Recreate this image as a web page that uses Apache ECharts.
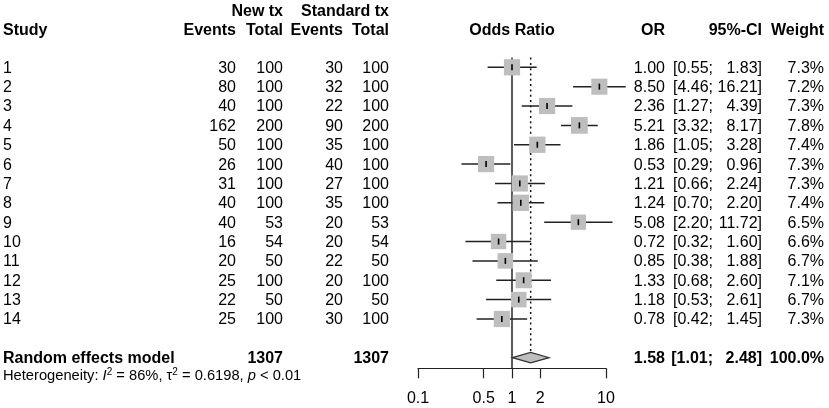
<!DOCTYPE html>
<html>
<head>
<meta charset="utf-8">
<script src="https://cdn.jsdelivr.net/npm/echarts@6/dist/echarts.min.js"></script>
<style>html,body{margin:0;padding:0;background:#fff}#c{width:829px;height:408px}</style>
</head>
<body>
<div id="c"></div>
<script>
// ---- data ----
const studies   = ['1','2','3','4','5','6','7','8','9','10','11','12','13','14'];
const newEvents = [30, 80, 40, 162, 50, 26, 31, 40, 40, 16, 20, 25, 22, 25];
const newTotal  = [100,100,100,200,100,100,100,100, 53, 54, 50,100, 50,100];
const stdEvents = [30, 32, 22, 90, 35, 40, 27, 35, 20, 20, 22, 20, 20, 30];
const stdTotal  = [100,100,100,200,100,100,100,100, 53, 54, 50,100, 50,100];
const oddsRatio = [1.00, 8.50, 2.36, 5.21, 1.86, 0.53, 1.21, 1.24, 5.08, 0.72, 0.85, 1.33, 1.18, 0.78];
const ciLower   = [0.55, 4.46, 1.27, 3.32, 1.05, 0.29, 0.66, 0.70, 2.20, 0.32, 0.38, 0.68, 0.53, 0.42];
const ciUpper   = [1.83, 16.21, 4.39, 8.17, 3.28, 0.96, 2.24, 2.20, 11.72, 1.60, 1.88, 2.60, 2.61, 1.45];
const weights   = [7.3, 7.2, 7.3, 7.8, 7.4, 7.3, 7.3, 7.4, 6.5, 6.6, 6.7, 7.1, 6.7, 7.3];
const pooledLabel = 'Random effects model';
const pooledNewTotal = 1307;
const pooledStdTotal = 1307;
const pooledOR = 1.58, pooledLower = 1.01, pooledUpper = 2.48, pooledWeight = 100.0;
const hetText = 'Heterogeneity: {i|I}{sup|2} = 86%, \u03c4{sup|2} = 0.6198, {i|p} < 0.01';
const tickValues = [0.1, 0.5, 1, 2, 10];
const tickLabels = ['0.1', '0.5', '1', '2', '10'];

// ---- layout ----
const FONT = '"Liberation Sans", Arial, Helvetica, sans-serif';
const F = (w, s) => (w ? 'bold ' : '') + s + 'px ' + FONT;
const pooledRow = studies.length + 2;
const yMax = 16.55;

const studyData = studies.map((s, i) => [oddsRatio[i], ciLower[i], ciUpper[i], i + 1, weights[i]]);
const fmt2 = v => v.toFixed(2);

function txt(x, y, text, align, bold) {
  return { type: 'text', style: { x: x, y: y, text: text, align: align, verticalAlign: 'middle', font: F(bold, 16), fill: '#000' } };
}

const chart = echarts.init(document.getElementById('c'), null, { renderer: 'canvas' });
chart.setOption({
  animation: false,
  backgroundColor: '#fff',
  grid: { left: 418, width: 188, top: 47.94, height: 320.4 },
  xAxis: {
    type: 'log', logBase: 10, min: 0.1, max: 10, position: 'bottom',
    axisLine: { show: true, onZero: false, lineStyle: { color: '#222', width: 1.2 } },
    axisTick: { show: true, inside: false, length: 10, lineStyle: { color: '#222', width: 1.2 }, customValues: tickValues },
    axisLabel: { show: true, margin: 22, customValues: tickValues, color: '#000', fontSize: 16, fontFamily: FONT,
      formatter: v => { const k = tickValues.findIndex(t => Math.abs(t - v) < 1e-6); return k >= 0 ? tickLabels[k] : ''; } },
    splitLine: { show: false }, minorTick: { show: false }
  },
  yAxis: { type: 'value', min: 0, max: yMax, inverse: true, show: false },
  graphic: [
    { type: 'text', x: 283, y: 12, style: { text: 'New tx', align: 'right', verticalAlign: 'middle', font: F(true, 16), fill: '#000' } },
    { type: 'text', x: 389, y: 12, style: { text: 'Standard tx', align: 'right', verticalAlign: 'middle', font: F(true, 16), fill: '#000' } },
    { type: 'text', x: 3, y: 31, style: { text: 'Study', align: 'left', verticalAlign: 'middle', font: F(true, 16), fill: '#000' } },
    { type: 'text', x: 236, y: 31, style: { text: 'Events', align: 'right', verticalAlign: 'middle', font: F(true, 16), fill: '#000' } },
    { type: 'text', x: 283, y: 31, style: { text: 'Total', align: 'right', verticalAlign: 'middle', font: F(true, 16), fill: '#000' } },
    { type: 'text', x: 343, y: 31, style: { text: 'Events', align: 'right', verticalAlign: 'middle', font: F(true, 16), fill: '#000' } },
    { type: 'text', x: 389, y: 31, style: { text: 'Total', align: 'right', verticalAlign: 'middle', font: F(true, 16), fill: '#000' } },
    { type: 'text', x: 512, y: 31, style: { text: 'Odds Ratio', align: 'center', verticalAlign: 'middle', font: F(true, 16), fill: '#000' } },
    { type: 'text', x: 665, y: 31, style: { text: 'OR', align: 'right', verticalAlign: 'middle', font: F(true, 16), fill: '#000' } },
    { type: 'text', x: 762, y: 31, style: { text: '95%-CI', align: 'right', verticalAlign: 'middle', font: F(true, 16), fill: '#000' } },
    { type: 'text', x: 824, y: 31, style: { text: 'Weight', align: 'right', verticalAlign: 'middle', font: F(true, 16), fill: '#000' } },
    { type: 'text', x: 3, y: 375.5, style: { text: hetText, align: 'left', verticalAlign: 'middle', font: F(false, 14.7), fill: '#000',
      rich: {
        i: { fontStyle: 'italic', fontSize: 14.7, fontFamily: FONT, lineHeight: 16 },
        sup: { fontSize: 10, fontFamily: FONT, verticalAlign: 'top', lineHeight: 16 }
      } } }
  ],
  series: [
    { // reference lines (no effect and pooled estimate)
      type: 'custom', clip: false, z: 1,
      data: [[1, 0], [pooledOR, 1]],
      encode: { x: 0 },
      renderItem: (params, api) => {
        const x = api.value(0), dotted = api.value(1) === 1;
        const top = api.coord([x, 0.5]);
        const bottom = dotted ? api.coord([x, pooledRow]) : api.coord([x, yMax]);
        return { type: 'line', shape: { x1: top[0], y1: top[1], x2: bottom[0], y2: dotted ? bottom[1] - 5 : bottom[1] },
          style: { stroke: dotted ? '#111' : '#333', lineWidth: dotted ? 1.5 : 1.6, lineDash: dotted ? [2, 3.3] : null } };
      }
    },
    { // study estimates
      type: 'custom', clip: false, z: 2,
      data: studyData,
      encode: { x: [0, 1, 2], y: 3 },
      renderItem: (params, api) => {
        const est = api.value(0), lo = api.value(1), hi = api.value(2), row = api.value(3), w = api.value(4);
        const pL = api.coord([lo, row]), pH = api.coord([hi, row]), pE = api.coord([est, row]);
        const s = 6 * Math.sqrt(w);
        return { type: 'group', children: [
          { type: 'line', shape: { x1: pL[0], y1: pL[1], x2: pH[0], y2: pH[1] }, style: { stroke: '#222', lineWidth: 1.5 } },
          { type: 'rect', shape: { x: pE[0] - s / 2, y: pE[1] - s / 2, width: s, height: s }, style: { fill: '#BEBEBE' } },
          { type: 'line', shape: { x1: pE[0], y1: pE[1] - 3, x2: pE[0], y2: pE[1] + 3 }, style: { stroke: '#000', lineWidth: 1.6 } }
        ] };
      }
    },
    { // pooled diamond
      type: 'custom', clip: false, z: 3,
      data: [[pooledOR, pooledLower, pooledUpper, pooledRow]],
      encode: { x: [0, 1, 2], y: 3 },
      renderItem: (params, api) => {
        const row = api.value(3);
        const pE = api.coord([api.value(0), row]), pL = api.coord([api.value(1), row]), pH = api.coord([api.value(2), row]);
        const h = 5.2;
        return { type: 'polygon', shape: { points: [[pL[0], pE[1]], [pE[0], pE[1] - h], [pH[0], pE[1]], [pE[0], pE[1] + h]] },
          style: { fill: '#BEBEBE', stroke: '#333', lineWidth: 1.2 } };
      }
    },
    { // study table text
      type: 'custom', clip: false, z: 4,
      data: studies.map((s, i) => [1, i + 1, i]),
      encode: { x: 0, y: 1 },
      renderItem: (params, api) => {
        const i = api.value(2);
        const y = api.coord([1, api.value(1)])[1] + 1;
        return { type: 'group', children: [
          txt(3, y, studies[i], 'left'),
          txt(236, y, String(newEvents[i]), 'right'),
          txt(283, y, String(newTotal[i]), 'right'),
          txt(343, y, String(stdEvents[i]), 'right'),
          txt(389, y, String(stdTotal[i]), 'right'),
          txt(665, y, fmt2(oddsRatio[i]), 'right'),
          txt(713, y, '[' + fmt2(ciLower[i]) + ';', 'right'),
          txt(762, y, fmt2(ciUpper[i]) + ']', 'right'),
          txt(824, y, weights[i].toFixed(1) + '%', 'right')
        ] };
      }
    },
    { // pooled row text
      type: 'custom', clip: false, z: 4,
      data: [[1, pooledRow]],
      encode: { x: 0, y: 1 },
      renderItem: (params, api) => {
        const y = api.coord([1, api.value(1)])[1] + 1.3;
        return { type: 'group', children: [
          txt(3, y, pooledLabel, 'left', true),
          txt(283, y, String(pooledNewTotal), 'right', true),
          txt(389, y, String(pooledStdTotal), 'right', true),
          txt(665, y, fmt2(pooledOR), 'right', true),
          txt(713, y, '[' + fmt2(pooledLower) + ';', 'right', true),
          txt(762, y, fmt2(pooledUpper) + ']', 'right', true),
          txt(824, y, pooledWeight.toFixed(1) + '%', 'right', true)
        ] };
      }
    }
  ]
});
</script>
</body>
</html>
